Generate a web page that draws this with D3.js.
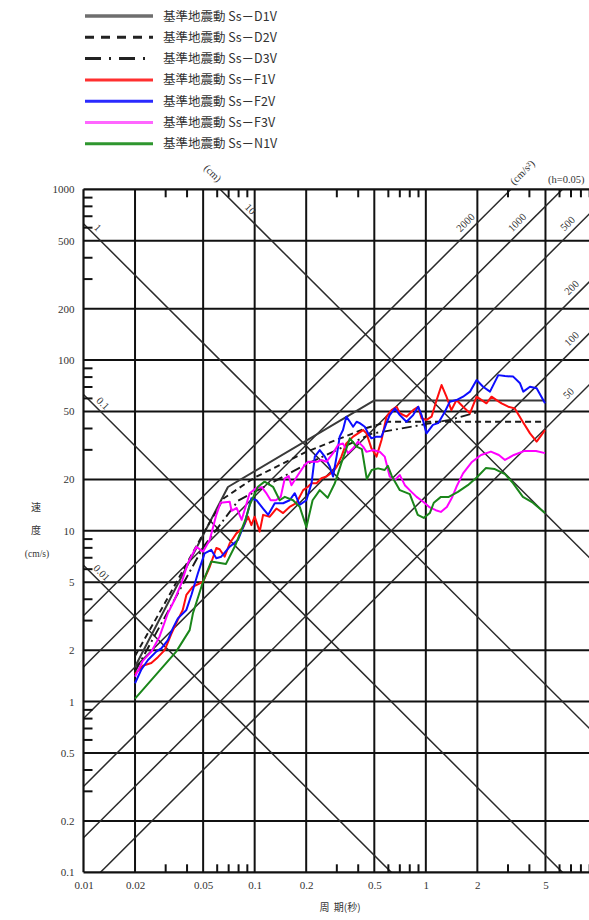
<!DOCTYPE html>
<html>
<head>
<meta charset="utf-8">
<script src="https://cdn.jsdelivr.net/npm/d3@7"></script>
<style>
  body { margin: 0; background: #fff; }
  svg { display: block; }
</style>
</head>
<body>
<svg id="chart" width="589" height="920"></svg>
<script>
// ---- Axis ticks -------------------------------------------------------
const periodTicks = [0.01, 0.02, 0.05, 0.1, 0.2, 0.5, 1, 2, 5];
const velocityTicks = [0.1, 0.2, 0.5, 1, 2, 5, 10, 20, 50, 100, 200, 500, 1000];
const periodMinor = [0.03, 0.04, 0.06, 0.07, 0.08, 0.09, 0.3, 0.4, 0.6, 0.7, 0.8, 0.9, 3, 4, 6, 7, 8, 9];
const velocityMinor = [0.3, 0.4, 0.6, 0.7, 0.8, 0.9, 3, 4, 6, 7, 8, 9, 30, 40, 60, 70, 80, 90, 300, 400, 600, 700, 800, 900];

// ---- Tripartite reference lines ----------------------------------------
const dispLines = [0.01, 0.1, 1, 10];                 // displacement (cm)
const accelLines = [50, 100, 200, 500, 1000, 2000];   // acceleration (cm/s2)

// ---- Spectra: period (s) / pseudo velocity (cm/s) ------------------------
const d1vPeriod = [0.02, 0.0698, 0.5, 5];
const d1vVel    = [1.6, 18.05, 58, 58];

const d2vPeriod = [0.02, 0.03, 0.05, 0.066, 0.1, 0.2, 0.45, 0.6, 5];
const d2vVel    = [1.85, 3.8, 9.6, 15.5, 20.5, 29, 40, 43.5, 43.5];

const d3vPeriod = [0.02, 0.05, 0.08, 0.2, 0.48, 1.38, 2.0];
const d3vVel    = [1.5, 8.0, 15.0, 24.5, 37, 44.6, 49.5];

const f1vPeriod = [0.020, 0.0222, 0.0249, 0.0272, 0.0298, 0.0326, 0.0355, 0.0380, 0.0399, 0.0434,
  0.0499, 0.0546, 0.0597, 0.0624, 0.0668, 0.0715, 0.0782, 0.0855, 0.0915, 0.0957,
  0.100, 0.107, 0.112, 0.1225, 0.134, 0.1466, 0.160, 0.175, 0.192, 0.205,
  0.215, 0.230, 0.2455, 0.263, 0.287, 0.301, 0.321, 0.343, 0.376, 0.402,
  0.430, 0.450, 0.481, 0.515, 0.551, 0.589, 0.630, 0.675, 0.705, 0.771,
  0.843, 0.902, 0.944, 1.009, 1.08, 1.156, 1.236, 1.32, 1.41, 1.51,
  1.65, 1.81, 1.98, 2.12, 2.26, 2.42, 2.59, 2.77, 3.03, 3.31,
  3.63, 4.06, 4.44, 4.97];
const f1vVel = [1.45, 1.62, 1.68, 1.82, 2.00, 2.49, 3.00, 3.44, 4.21, 4.69,
  5.03, 6.14, 7.93, 7.8, 7.05, 8.45, 9.66, 10.4, 12.1, 10.8,
  12.1, 9.89, 12.4, 12.1, 13.5, 12.7, 13.8, 14.5, 17.3, 18.1,
  19.0, 19.0, 20.3, 20.8, 22.2, 23.7, 27.2, 32.5, 35.6, 37.2,
  38.9, 37.2, 30.4, 27.2, 34.0, 46.6, 50.9, 53.3, 48.8, 46.6,
  50.9, 53.3, 45.6, 44.6, 46.6, 58.3, 71.4, 61.0, 50.9, 58.3,
  53.3, 48.8, 61.0, 58.3, 55.8, 61.0, 58.3, 55.8, 53.3, 52.1,
  44.6, 37.2, 33.3, 38.9];

const f2vPeriod = [0.020, 0.0217, 0.0238, 0.0266, 0.0285, 0.0311, 0.0333, 0.0356, 0.0399, 0.0427,
  0.0466, 0.0510, 0.0558, 0.0597, 0.0638, 0.0715, 0.0798, 0.0875, 0.0957, 0.1024,
  0.112, 0.120, 0.131, 0.1466, 0.160, 0.1715, 0.183, 0.2005, 0.215, 0.2245,
  0.240, 0.257, 0.275, 0.287, 0.301, 0.314, 0.328, 0.343, 0.360, 0.376,
  0.394, 0.411, 0.440, 0.460, 0.481, 0.515, 0.551, 0.589, 0.615, 0.659,
  0.705, 0.771, 0.843, 0.902, 0.944, 1.009, 1.10, 1.18, 1.29, 1.38,
  1.51, 1.65, 1.81, 1.98, 2.16, 2.37, 2.65, 2.90, 3.24, 3.55,
  3.71, 4.06, 4.44, 4.97];
const f2vVel = [1.28, 1.53, 1.75, 1.96, 2.05, 2.29, 2.69, 3.07, 3.44, 4.21,
  5.64, 7.38, 7.73, 6.90, 7.05, 8.07, 8.83, 11.1, 15.5, 15.1,
  13.5, 12.4, 14.5, 14.5, 15.1, 16.6, 14.2, 15.1, 19.0, 27.2,
  29.7, 27.2, 23.7, 20.8, 27.2, 35.6, 38.9, 46.6, 43.5, 40.7,
  43.5, 42.7, 40.7, 37.2, 34.8, 35.6, 35.6, 42.7, 47.6, 52.1,
  47.6, 43.5, 47.6, 53.3, 47.6, 37.2, 41.7, 42.7, 49.7, 57.0,
  58.3, 61.0, 65.3, 76.4, 69.8, 65.3, 81.6, 80.6, 80.0, 73.1,
  65.3, 69.8, 68.4, 55.8];

const f3vPeriod = [0.020, 0.0222, 0.0249, 0.0278, 0.0311, 0.0340, 0.0373, 0.0407, 0.0456, 0.0499,
  0.0546, 0.0597, 0.0632, 0.0715, 0.0733, 0.0785, 0.0840, 0.0935, 0.1028, 0.110,
  0.1175, 0.124, 0.133, 0.142, 0.150, 0.158, 0.164, 0.179, 0.196, 0.205,
  0.219, 0.234, 0.245, 0.263, 0.287, 0.307, 0.328, 0.351, 0.376, 0.402,
  0.430, 0.450, 0.492, 0.538, 0.575, 0.615, 0.659, 0.705, 0.754, 0.824,
  0.883, 0.965, 1.055, 1.143, 1.224, 1.327, 1.42, 1.51, 1.65, 1.86,
  2.10, 2.40, 2.67, 2.90, 3.27, 3.74, 4.40, 4.97];
const f3vVel = [1.40, 1.73, 1.96, 2.40, 3.29, 3.93, 4.93, 6.45, 8.07, 7.55,
  8.83, 12.4, 14.6, 14.8, 13.1, 13.6, 11.6, 16.6, 17.9, 18.0,
  16.5, 15.1, 15.1, 15.8, 20.3, 20.9, 18.5, 21.2, 24.3, 25.4,
  25.4, 25.4, 26.0, 25.4, 28.5, 31.8, 32.5, 28.5, 30.4, 33.3,
  31.1, 29.0, 29.7, 29.0, 27.2, 20.8, 19.8, 21.2, 18.5, 16.9,
  15.8, 14.8, 13.7, 13.2, 12.9, 13.8, 15.6, 18.1, 21.7, 25.3,
  27.8, 29.1, 27.8, 26.0, 27.8, 29.3, 29.3, 28.5];

const n1vPeriod = [0.020, 0.0348, 0.0417, 0.0436, 0.0499, 0.0557, 0.068, 0.077, 0.088, 0.094,
  0.1045, 0.1143, 0.128, 0.140, 0.150, 0.1676, 0.1834, 0.2005, 0.218, 0.240,
  0.267, 0.294, 0.321, 0.360, 0.394, 0.423, 0.452, 0.483, 0.526, 0.575,
  0.600, 0.633, 0.705, 0.806, 0.897, 0.973, 1.055, 1.113, 1.225, 1.362,
  1.54, 1.76, 1.99, 2.24, 2.53, 2.90, 3.23, 3.69, 4.22, 4.97];
const n1vVel = [1.04, 1.96, 2.62, 3.29, 5.03, 6.6, 6.4, 8.2, 11.5, 14.3,
  18.1, 19.4, 18.1, 15.1, 15.8, 15.1, 13.8, 10.5, 15.1, 17.3,
  15.6, 19.0, 24.9, 34.8, 31.1, 30.1, 20.1, 22.7, 23.2, 22.7,
  24.0, 20.9, 17.3, 16.4, 12.4, 11.9, 12.7, 14.6, 15.8, 15.8,
  16.9, 18.5, 20.6, 23.3, 23.0, 21.5, 19.0, 15.8, 14.6, 12.7];

const seriesNames = ["基準地震動 Ss－D1V", "基準地震動 Ss－D2V", "基準地震動 Ss－D3V",
  "基準地震動 Ss－F1V", "基準地震動 Ss－F2V", "基準地震動 Ss－F3V", "基準地震動 Ss－N1V"];

// ---- Build series ------------------------------------------------------
const zip = (ts, vs) => ts.map((t, i) => ({ t, v: vs[i] }));
const series = [
  { name: seriesNames[0], pts: zip(d1vPeriod, d1vVel), color: "#3a3a3a", width: 2.0, dash: null,       lw: 3.6, lcolor: "#6e6e6e" },
  { name: seriesNames[1], pts: zip(d2vPeriod, d2vVel), color: "#1a1a1a", width: 1.9, dash: "6,4",      lw: 3.0, lcolor: "#222", ldash: "9,7" },
  { name: seriesNames[2], pts: zip(d3vPeriod, d3vVel), color: "#1a1a1a", width: 1.9, dash: "10,4,2,4", lw: 3.0, lcolor: "#222", ldash: "16,8,2,8" },
  { name: seriesNames[3], pts: zip(f1vPeriod, f1vVel), color: "#ff0d0d", width: 2.0, dash: null, lw: 3.0, lcolor: "#ff3030" },
  { name: seriesNames[4], pts: zip(f2vPeriod, f2vVel), color: "#0d0dff", width: 2.0, dash: null, lw: 3.0, lcolor: "#2a2aff" },
  { name: seriesNames[5], pts: zip(f3vPeriod, f3vVel), color: "#ff00ff", width: 2.0, dash: null, lw: 3.0, lcolor: "#ff66ff" },
  { name: seriesNames[6], pts: zip(n1vPeriod, n1vVel), color: "#1a861a", width: 2.0, dash: null, lw: 3.0, lcolor: "#2e962e" }
];

// ---- Layout ------------------------------------------------------------
const svg = d3.select("#chart");
const plot = { left: 83.5, top: 189.3, right: 597, bottom: 872.3 };
const x = d3.scaleLog().domain([0.01, 10]).range([plot.left, plot.right]);
const y = d3.scaleLog().domain([0.1, 1000]).range([plot.bottom, plot.top]);
const numFont = "'Liberation Serif', 'DejaVu Serif', serif";
const cjkFont = "'Noto Sans CJK JP', 'Noto Sans', sans-serif";

svg.append("defs").append("clipPath").attr("id", "plotClip")
  .append("rect")
  .attr("x", plot.left).attr("y", plot.top)
  .attr("width", plot.right - plot.left).attr("height", plot.bottom - plot.top);

// grid
const grid = svg.append("g").attr("stroke", "#111").attr("stroke-width", 2);
grid.selectAll("line.vx").data(periodTicks.slice(1)).join("line")
  .attr("x1", d => x(d)).attr("x2", d => x(d))
  .attr("y1", plot.top).attr("y2", plot.bottom);
grid.selectAll("line.hy").data(velocityTicks.slice(1, -1)).join("line")
  .attr("class", "hy")
  .attr("x1", plot.left).attr("x2", plot.right)
  .attr("y1", d => y(d)).attr("y2", d => y(d));

// tripartite diagonals
const diag = svg.append("g").attr("clip-path", "url(#plotClip)")
  .attr("stroke", "#2a2a2a").attr("stroke-width", 1.5).attr("fill", "none");
const TWO_PI = 2 * Math.PI;
const [tMin, tMax] = x.domain();
diag.selectAll("line.d").data(dispLines).join("line")
  .attr("x1", x(tMin)).attr("y1", D => y(TWO_PI * D / tMin))
  .attr("x2", x(tMax)).attr("y2", D => y(TWO_PI * D / tMax));
diag.selectAll("line.a").data(accelLines).join("line")
  .attr("class", "a")
  .attr("x1", x(tMin)).attr("y1", A => y(A * tMin / TWO_PI))
  .attr("x2", x(tMax)).attr("y2", A => y(A * tMax / TWO_PI));

// diagonal labels
const dispLabelT = { 0.01: 0.0119, 0.1: 0.0121, 1: 0.0113, 10: 0.088 };
const accelLabelT = { 2000: 1.85, 1000: 3.7, 500: 7.3, 200: 7.7, 100: 7.7, 50: 7.4 };
const labG = svg.append("g").attr("font-family", numFont).attr("font-size", 10.5)
  .attr("fill", "#333").attr("text-anchor", "middle");
dispLines.forEach(D => {
  const t = dispLabelT[D];
  const px = x(t), py = y(TWO_PI * D / t);
  labG.append("text").attr("transform", `translate(${px},${py}) rotate(45)`)
    .attr("dy", -4).text(D);
});
accelLines.forEach(A => {
  const t = accelLabelT[A];
  const px = x(t), py = y(A * t / TWO_PI);
  labG.append("text").attr("transform", `translate(${px},${py}) rotate(-45)`)
    .attr("dy", -5).text(A);
});
labG.append("text").attr("transform", "translate(213,173) rotate(45)").attr("dy", 4).text("(cm)");
labG.append("text").attr("transform", "translate(522,172) rotate(-45)").attr("dy", 4)
  .text("(cm/s²)");
labG.append("text").attr("x", 548).attr("y", 183).attr("text-anchor", "start").text("(h=0.05)");

// minor ticks on the frame
const minorStyle = g => g.call(s => s.select(".domain").remove())
  .selectAll(".tick line").attr("stroke", "#111").attr("stroke-width", 2);
svg.append("g").attr("transform", `translate(0,${plot.bottom})`)
  .call(d3.axisBottom(x).tickValues(periodMinor).tickSize(-8).tickFormat(""))
  .call(minorStyle);
svg.append("g").attr("transform", `translate(0,${plot.top})`)
  .call(d3.axisTop(x).tickValues(periodMinor).tickSize(-8).tickFormat(""))
  .call(minorStyle);
svg.append("g").attr("transform", `translate(${plot.left},0)`)
  .call(d3.axisLeft(y).tickValues(velocityMinor).tickSize(-9).tickFormat(""))
  .call(minorStyle);

// tick labels
const fmt = d => String(d);
const xAxis = svg.append("g").attr("transform", `translate(0,${plot.bottom})`)
  .call(d3.axisBottom(x).tickValues(periodTicks).tickSize(0).tickPadding(9).tickFormat(fmt));
const yAxis = svg.append("g").attr("transform", `translate(${plot.left},0)`)
  .call(d3.axisLeft(y).tickValues(velocityTicks).tickSize(0).tickPadding(9).tickFormat(fmt));
[xAxis, yAxis].forEach(a => {
  a.select(".domain").remove();
  a.selectAll("text").attr("font-family", numFont).attr("font-size", 11).attr("fill", "#333");
});

// frame
const frame = svg.append("g").attr("stroke", "#111").attr("stroke-width", 2.2);
frame.append("line").attr("x1", plot.left).attr("x2", plot.left).attr("y1", plot.top).attr("y2", plot.bottom);
frame.append("line").attr("x1", plot.left).attr("x2", plot.right).attr("y1", plot.top).attr("y2", plot.top);
frame.append("line").attr("x1", plot.left).attr("x2", plot.right).attr("y1", plot.bottom).attr("y2", plot.bottom);

// spectra
const line = d3.line().x(d => x(d.t)).y(d => y(d.v));
const curves = svg.append("g").attr("clip-path", "url(#plotClip)").attr("fill", "none")
  .attr("stroke-linejoin", "round");
series.forEach(s => {
  curves.append("path").attr("d", line(s.pts))
    .attr("stroke", s.color).attr("stroke-width", s.width)
    .attr("stroke-dasharray", s.dash);
});

// axis titles
const titles = svg.append("g").attr("fill", "#333").attr("text-anchor", "middle");
titles.append("text").attr("x", 36).attr("y", 511).attr("font-family", cjkFont).attr("font-size", 10).text("速");
titles.append("text").attr("x", 36).attr("y", 534).attr("font-family", cjkFont).attr("font-size", 10).text("度");
titles.append("text").attr("x", 37).attr("y", 557).attr("font-family", numFont).attr("font-size", 9.5).text("(cm/s)");
titles.append("text").attr("x", 340).attr("y", 911).attr("font-family", cjkFont).attr("font-size", 10)
  .attr("xml:space", "preserve").text("周  期(秒)");

// legend
const legend = svg.append("g").attr("transform", "translate(85,16)");
series.forEach((s, i) => {
  const row = legend.append("g").attr("transform", `translate(0,${i * 21.3})`);
  row.append("line").attr("x1", 0).attr("x2", 68).attr("y1", 0).attr("y2", 0)
    .attr("stroke", s.lcolor).attr("stroke-width", s.lw)
    .attr("stroke-dasharray", s.ldash || null);
  row.append("text").attr("x", 78).attr("y", 4.5)
    .attr("font-family", cjkFont).attr("font-size", 12.5).attr("fill", "#333")
    .text(s.name);
});
</script>
</body>
</html>
